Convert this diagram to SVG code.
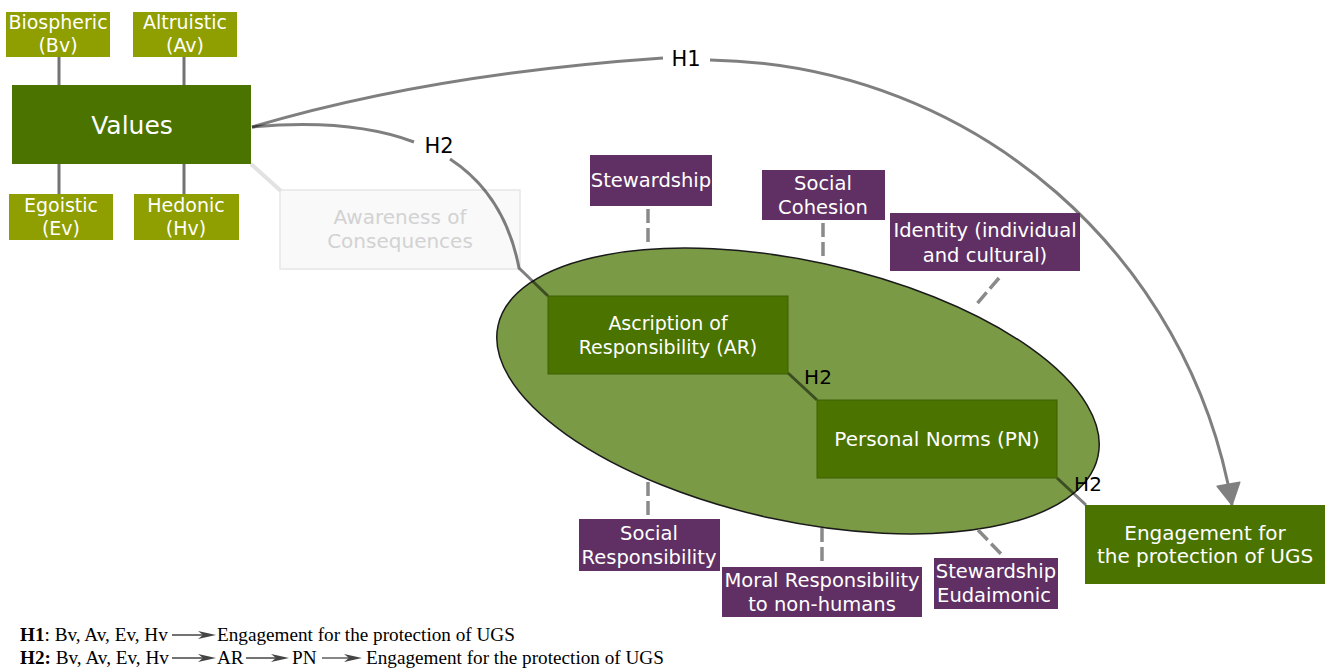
<svg xmlns="http://www.w3.org/2000/svg" width="1325" height="668" viewBox="0 0 1325 668">
<style>
.dg{fill:#4a7300}
.dgs{fill:#4a7300;stroke:#3e6100;stroke-width:1}
.ol{fill:#8f9e00}
.pu{fill:#603064}
.wt{font-family:"DejaVu Sans",Verdana,sans-serif;fill:#fff;text-anchor:middle}
.f19{font-size:19px}
.fp{font-size:19.5px}
.f20{font-size:20px}
.lbl{font-family:"DejaVu Sans",Verdana,sans-serif;fill:#000;text-anchor:middle}
.con{fill:none;stroke:#000;stroke-opacity:0.5;stroke-width:3}
.tie{fill:none;stroke:#000;stroke-opacity:0.55;stroke-width:3}
.dash{fill:none;stroke:#8a8a8a;stroke-width:3.5;stroke-dasharray:14 5}
.leg{font-family:"Liberation Serif","Times New Roman",serif;font-size:19.2px;fill:#000}
.larr{stroke:#444;stroke-width:1.3}
.lhead{fill:#444}
</style>
<defs>
<marker id="ah" markerUnits="userSpaceOnUse" markerWidth="26" markerHeight="26" viewBox="0 0 26 26" refX="23" refY="13" orient="auto">
<path d="M2,1.5 L23,13 L2,24.5 Z" fill="#808080" stroke="#808080" stroke-width="1.5" stroke-linejoin="round"/>
</marker>
</defs>

<g id="ellipse">
<ellipse cx="798" cy="391" rx="307" ry="130" transform="rotate(12.3 798 391)" fill="#7a9a46" stroke="#1a1a1a" stroke-width="1.5"/>
</g>

<g id="awareness"><rect x="280" y="190" width="240" height="79" fill="#f9f9f9" stroke="#e6e6e6" stroke-width="1.5"/><text x="400" y="224" font-family="DejaVu Sans,Verdana,sans-serif" font-size="20" fill="#d2d2d2" text-anchor="middle">Awareness of</text><text x="400" y="248" font-family="DejaVu Sans,Verdana,sans-serif" font-size="20" fill="#d2d2d2" text-anchor="middle">Consequences</text></g>

<g id="connectors">
<line class="tie" x1="59" y1="57" x2="59" y2="85"/>
<line class="tie" x1="184" y1="57" x2="184" y2="85"/>
<line class="tie" x1="59" y1="164" x2="59" y2="194"/>
<line class="tie" x1="184" y1="164" x2="184" y2="194"/>
<line x1="251" y1="164" x2="281" y2="191" stroke="#e2e2e2" stroke-width="4"/>
<path class="con" d="M252,127 Q430,74 663,58"/>
<path class="con" d="M710,60 C980,65 1190,260 1232,505" marker-end="url(#ah)"/>
<path class="con" d="M252,127 Q350,118 414,142"/>
<path class="con" d="M450,159 Q505,195 519,268 L548,296"/>
<line class="con" x1="788" y1="373" x2="817" y2="400"/>
<line class="con" x1="1057" y1="478" x2="1086" y2="505"/>
<line class="dash" x1="648" y1="209" x2="648" y2="245"/>
<line class="dash" x1="823" y1="223" x2="823" y2="257"/>
<line class="dash" x1="999" y1="278" x2="975" y2="306"/>
<line class="dash" x1="648" y1="482" x2="648" y2="517"/>
<line class="dash" x1="822" y1="528" x2="822" y2="566"/>
<line class="dash" x1="978" y1="530" x2="1004" y2="557"/>
<text class="lbl" x="686" y="66" font-size="21">H1</text>
<text class="lbl" x="439" y="153" font-size="21">H2</text>
<text class="lbl" x="818" y="384" font-size="20">H2</text>
<text class="lbl" x="1088" y="491" font-size="20">H2</text>
</g>

<g id="biospheric"><rect class="ol" x="6" y="12" width="104" height="45"/><text class="wt f19" x="58" y="29">Biospheric</text><text class="wt f19" x="58" y="52">(Bv)</text></g>
<g id="altruistic"><rect class="ol" x="133" y="12" width="104" height="45"/><text class="wt f19" x="185" y="29">Altruistic</text><text class="wt f19" x="185" y="52">(Av)</text></g>
<g id="values"><rect class="dg" x="12" y="85" width="239" height="79"/><text class="wt" x="132" y="134" font-size="25">Values</text></g>
<g id="egoistic"><rect class="ol" x="9" y="194" width="104" height="46"/><text class="wt f19" x="61" y="212">Egoistic</text><text class="wt f19" x="61" y="235">(Ev)</text></g>
<g id="hedonic"><rect class="ol" x="134" y="194" width="105" height="46"/><text class="wt f19" x="186" y="212">Hedonic</text><text class="wt f19" x="186" y="235">(Hv)</text></g>

<g id="ar"><rect class="dgs" x="548" y="296" width="240" height="78"/><text class="wt f19" x="668" y="330">Ascription of</text><text class="wt f19" x="668" y="354">Responsibility (AR)</text></g>
<g id="pn"><rect class="dgs" x="817" y="400" width="240" height="78"/><text class="wt f20" x="937" y="446">Personal Norms (PN)</text></g>
<g id="engagement"><rect class="dg" x="1085" y="505" width="240" height="79"/><text class="wt f20" x="1205" y="540">Engagement for</text><text class="wt f20" x="1205" y="563">the protection of UGS</text></g>

<g id="stewardship"><rect class="pu" x="590" y="155" width="122" height="51"/><text class="wt fp" x="651" y="187">Stewardship</text></g>
<g id="social-cohesion"><rect class="pu" x="762" y="170" width="123" height="50"/><text class="wt fp" x="823" y="190">Social</text><text class="wt fp" x="823" y="214">Cohesion</text></g>
<g id="identity"><rect class="pu" x="890" y="213" width="190" height="58"/><text class="wt fp" x="985" y="237">Identity (individual</text><text class="wt fp" x="985" y="262">and cultural)</text></g>
<g id="social-responsibility"><rect class="pu" x="579" y="519" width="141" height="52"/><text class="wt fp" x="649" y="540">Social</text><text class="wt fp" x="649" y="564">Responsibility</text></g>
<g id="moral-responsibility"><rect class="pu" x="722" y="567" width="200" height="50"/><text class="wt fp" x="822" y="587">Moral Responsibility</text><text class="wt fp" x="822" y="611">to non-humans</text></g>
<g id="stewardship-eudaimonic"><rect class="pu" x="934" y="558" width="124" height="51"/><text class="wt fp" x="996" y="578">Stewardship</text><text class="wt fp" x="994" y="602">Eudaimonic</text></g>

<g id="legend">
<text class="leg" x="20" y="641"><tspan font-weight="bold">H1</tspan>: Bv, Av, Ev, Hv</text>
<line class="larr" x1="172" y1="635" x2="206" y2="635"/><path class="lhead" d="M198,631 L216,635 L198,639 L203,635 Z"/>
<text class="leg" x="217" y="641">Engagement for the protection of UGS</text>
<text class="leg" x="20" y="664"><tspan font-weight="bold">H2:</tspan> Bv, Av, Ev, Hv</text>
<line class="larr" x1="172" y1="658" x2="206" y2="658"/><path class="lhead" d="M198,654 L216,658 L198,662 L203,658 Z"/>
<text class="leg" x="217" y="664">AR</text>
<line class="larr" x1="246" y1="658" x2="279" y2="658"/><path class="lhead" d="M271,654 L289,658 L271,662 L276,658 Z"/>
<text class="leg" x="292" y="664">PN</text>
<line class="larr" x1="322" y1="658" x2="352" y2="658"/><path class="lhead" d="M344,654 L362,658 L344,662 L349,658 Z"/>
<text class="leg" x="366" y="664">Engagement for the protection of UGS</text>
</g>
</svg>
